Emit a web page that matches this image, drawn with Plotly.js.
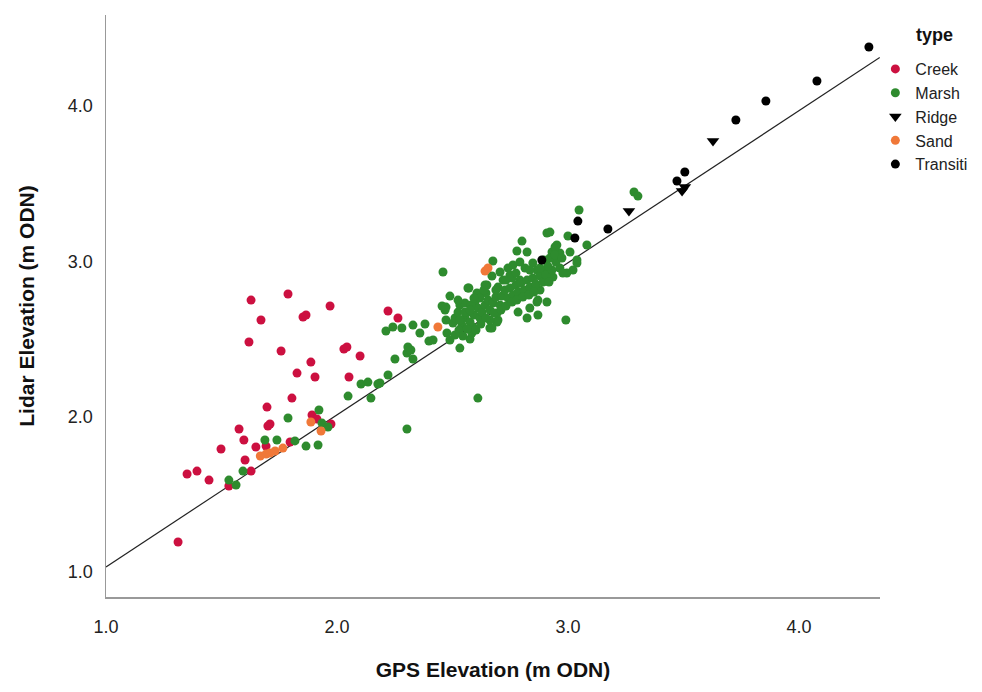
<!DOCTYPE html>
<html>
<head>
<meta charset="utf-8">
<script src="https://cdn.plot.ly/plotly-3.0.1.min.js"></script>
<style>html,body{margin:0;padding:0;background:#fff;}#chart{width:982px;height:692px;}</style>
</head>
<body>
<div id="chart"></div>
<script>
// ---- data (GPS elevation x, Lidar elevation y, m ODN) ----
const creekX = [1.628,1.788,1.970,1.671,1.853,1.866,1.619,1.758,2.030,2.043,2.100,1.887,1.827,1.905,2.052,1.805,1.697,1.710,1.701,1.576,1.597,1.498,1.649,1.693,1.892,1.913,1.974,1.797,1.602,1.351,1.394,1.446,1.628,1.532,1.312,2.221,2.264];
const creekY = [2.751,2.790,2.713,2.623,2.642,2.655,2.481,2.423,2.436,2.449,2.391,2.352,2.281,2.256,2.256,2.120,2.062,1.953,1.940,1.921,1.850,1.792,1.805,1.811,2.011,1.985,1.953,1.837,1.721,1.631,1.650,1.592,1.650,1.554,1.193,2.681,2.636];

const marshX = [1.532,1.563,1.593,1.688,1.740,1.818,1.866,1.918,1.788,1.922,1.935,1.961,2.048,2.104,2.134,2.177,2.147,2.186,2.221,2.251,2.303,2.320,2.307,2.329,2.212,2.242,2.281,2.329,2.381,2.359,2.398,2.303,2.610,2.416,2.459,
 2.472,2.476,2.472,2.489,2.455,2.468,2.502,2.532,2.576,2.584,2.532,2.554,2.567,2.610,2.649,2.606,2.571,2.597,2.589,2.662,2.693,2.697,2.671,2.662,2.693,2.641,2.675,2.719,2.749,2.762,2.697,2.792,2.814,2.866,2.900,2.935,2.965,2.995,2.848,2.879,2.866,2.909,2.835,2.870,2.823,2.991,2.784,2.870,
 2.909,3.000,3.082,3.048,2.801,2.779,2.823,2.952,2.931,2.965,3.009,3.039,3.022,3.039,2.978,3.286,3.303,2.922,2.944,
 2.511,2.524,2.541,2.554,2.567,2.576,2.593,2.610,2.619,2.628,2.641,2.654,2.662,2.675,2.688,2.706,2.714,2.727,2.740,2.749,2.762,2.775,2.784,2.797,2.810,2.823,2.835,2.848,2.861,2.879,2.892,2.905,2.918,2.931,2.948,
 2.528,2.545,2.563,2.602,2.623,2.645,2.680,2.710,2.732,2.758,2.779,2.805,2.831,2.853,2.645,2.619,2.580,2.554,2.511,2.489,2.524,2.732,2.758,2.835,2.775,2.688,2.896,2.922,2.944,2.974,2.913,2.792,2.740,2.706,2.671,2.576,2.532,2.593,2.636,2.879];
const marshY = [1.592,1.560,1.650,1.850,1.850,1.844,1.811,1.818,1.992,2.043,1.959,1.934,2.133,2.211,2.223,2.211,2.120,2.217,2.269,2.372,2.410,2.430,2.449,2.372,2.552,2.578,2.571,2.590,2.597,2.539,2.487,1.921,2.120,2.494,2.932,
 2.623,2.539,2.706,2.777,2.713,2.687,2.603,2.442,2.500,2.539,2.719,2.732,2.829,2.790,2.848,2.797,2.829,2.739,2.578,2.571,2.610,2.623,2.571,2.623,2.668,2.848,3.003,2.880,2.912,2.977,2.835,2.880,2.958,2.945,2.932,2.900,2.958,2.925,2.990,2.816,2.739,2.739,2.700,2.655,2.636,2.623,2.674,2.751,
 3.183,3.164,3.106,3.331,3.131,3.067,3.061,3.106,3.061,3.054,3.061,3.009,2.945,2.990,2.925,3.447,3.421,3.189,3.093,
 2.636,2.674,2.590,2.636,2.674,2.610,2.655,2.700,2.636,2.674,2.719,2.751,2.687,2.732,2.771,2.719,2.777,2.816,2.764,2.829,2.784,2.848,2.803,2.861,2.816,2.880,2.835,2.893,2.854,2.906,2.867,2.912,2.867,2.945,2.996,
 2.558,2.520,2.565,2.558,2.597,2.636,2.668,2.687,2.713,2.739,2.751,2.771,2.784,2.803,2.797,2.764,2.719,2.674,2.526,2.494,2.751,2.880,2.893,2.945,2.925,2.816,3.009,3.022,3.041,3.022,2.970,2.996,2.957,2.932,2.906,2.687,2.623,2.764,2.816,2.958];

const ridgeX = [3.264,3.494,3.506,3.628];
const ridgeY = [3.325,3.453,3.479,3.775];

const sandX = [1.668,1.693,1.710,1.732,1.766,1.887,1.931,2.437,2.641,2.654];
const sandY = [1.747,1.760,1.766,1.779,1.798,1.966,1.908,2.578,2.938,2.958];

const transitX = [2.887,3.030,3.043,3.173,3.472,3.506,3.727,3.857,4.078,4.303];
const transitY = [3.009,3.151,3.260,3.209,3.518,3.576,3.911,4.033,4.162,4.381];

const fitX = [1.0, 4.35];
const fitY = [1.033, 4.313];

const xTicks = [1, 2, 3, 4];
const xTickText = ['1.0','2.0','3.0','4.0'];
const yTicks = [1, 2, 3, 4];
const yTickText = ['1.0','2.0','3.0','4.0'];

const FONT = 'Liberation Sans, Arial, sans-serif';

function pts(name, x, y, color, symbol, size) {
  return {type:'scatter', mode:'markers', name:name, x:x, y:y,
    marker:{color:color, size:size||9, symbol:symbol||'circle', line:{width:0}},
    hoverinfo:'skip'};
}

const traces = [
  {type:'scatter', mode:'lines', x:fitX, y:fitY, line:{color:'#222', width:1.2}, showlegend:false, hoverinfo:'skip'},
  pts('Creek', creekX, creekY, '#cc1040'),
  pts('Marsh', marshX, marshY, '#2e8b2e'),
  pts('Ridge', ridgeX, ridgeY, '#000000', 'triangle-down', 11),
  pts('Sand', sandX, sandY, '#f07838'),
  pts('Transiti', transitX, transitY, '#000000')
];

const layout = {
  width:982, height:692,
  margin:{l:106, r:102, t:15, b:95, autoexpand:false},
  paper_bgcolor:'#fff', plot_bgcolor:'#fff',
  font:{family:FONT, color:'#111'},
  showlegend:true,
  legend:{x:0.994, xanchor:'left', y:0.9364, yanchor:'top',
    font:{size:16, family:FONT, color:'#222'}, tracegroupgap:0, itemwidth:30,
    itemsizing:'trace', bgcolor:'rgba(0,0,0,0)'},
  annotations:[{text:'<b>type</b>', xref:'paper', yref:'paper', x:1.071, y:0.9656,
    xanchor:'center', yanchor:'middle', showarrow:false,
    font:{size:18, family:FONT, color:'#111'}}],
  xaxis:{range:[1.0, 4.351], tickvals:xTicks, ticktext:xTickText, showgrid:false, zeroline:false,
    showline:true, linecolor:'#999', linewidth:1.5, ticks:'', ticklabelstandoff:13,
    tickfont:{size:18, family:FONT, color:'#222'},
    title:{text:'<b>GPS Elevation (m ODN)</b>', font:{size:21, family:FONT, color:'#111'}, standoff:26}},
  yaxis:{range:[0.839, 4.587], tickvals:yTicks, ticktext:yTickText, showgrid:false, zeroline:false,
    showline:true, linecolor:'#999', linewidth:1.5, ticks:'', ticklabelstandoff:8,
    tickfont:{size:18, family:FONT, color:'#222'},
    title:{text:'<b>Lidar Elevation (m ODN)</b>', font:{size:21, family:FONT, color:'#111'}, standoff:27}}
};

Plotly.newPlot('chart', traces, layout, {displayModeBar:false, staticPlot:true});
</script>
</body>
</html>
